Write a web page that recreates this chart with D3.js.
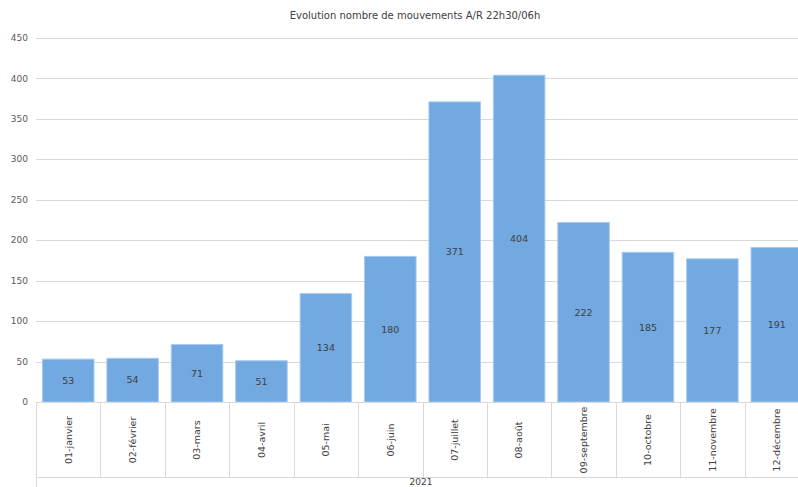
<!DOCTYPE html>
<html><head><meta charset="utf-8">
<script src="https://cdn.jsdelivr.net/npm/d3@7"></script>
<style>body{margin:0;background:#fff;}svg{display:block;font-family:"DejaVu Sans",sans-serif;}</style>
</head><body>
<svg id="c" width="798" height="487"></svg>
<script>
const title = "Evolution nombre de mouvements A/R 22h30/06h";
const categories = ["01-janvier","02-février","03-mars","04-avril","05-mai","06-juin","07-juillet","08-août","09-septembre","10-octobre","11-novembre","12-décembre"];
const values = [53,54,71,51,134,180,371,404,222,185,177,191];
const yTicks = [0,50,100,150,200,250,300,350,400,450];
const groupLabel = "2021";

(function(){
const svg = d3.select("#c");
const pL = 36, pR = 809, pT = 38, pB = 402;
const x = d3.scaleBand().domain(categories).range([pL, pR]).paddingInner(0.2).paddingOuter(0.1);
const y = d3.scaleLinear().domain([0, 450]).range([pB, pT]);

svg.append("text").attr("x", 415).attr("y", 19).attr("text-anchor","middle")
  .attr("font-size", 10).attr("fill","#404040").text(title);

svg.append("g").selectAll("line").data(yTicks).join("line")
  .attr("x1", pL).attr("x2", 798).attr("y1", d=>Math.round(y(d))+0.5).attr("y2", d=>Math.round(y(d))+0.5)
  .attr("stroke","#d9d9d9").attr("stroke-width",1);

svg.append("g").selectAll("text").data(yTicks).join("text")
  .attr("x", 28).attr("y", d=>y(d)).attr("dy","0.35em").attr("text-anchor","end")
  .attr("font-size", 9).attr("fill","#595959").text(d=>d);

svg.append("g").selectAll("rect").data(values).join("rect")
  .attr("x", (d,i)=>x(categories[i])).attr("width", x.bandwidth())
  .attr("y", d=>y(d)).attr("height", d=>y(0)-y(d))
  .attr("fill","#72a9e1").attr("stroke","#a6cbef").attr("stroke-width",1);

svg.append("g").selectAll("text").data(values).join("text")
  .attr("x", (d,i)=>x(categories[i]) + x.bandwidth()/2)
  .attr("y", d=>(y(d)+y(0))/2).attr("dy","0.35em").attr("text-anchor","middle")
  .attr("font-size", 9.5).attr("fill","#404040").text(d=>d);

const step = x.step();
const bounds = d3.range(categories.length + 1).map(i => pL + i*step);
const ax = svg.append("g");
ax.append("line").attr("x1", pL).attr("x2", 798).attr("y1", pB+0.5).attr("y2", pB+0.5).attr("stroke","#d9d9d9");
ax.selectAll("line.div").data(bounds).join("line").attr("class","div")
  .attr("x1", d=>Math.round(d)+0.5).attr("x2", d=>Math.round(d)+0.5)
  .attr("y1", pB).attr("y2", (d,i)=> i===0 ? 487 : 477)
  .attr("stroke","#d9d9d9");
ax.append("line").attr("x1", pL).attr("x2", 798).attr("y1", 477.5).attr("y2", 477.5).attr("stroke","#d9d9d9");

svg.append("g").selectAll("text").data(categories).join("text")
  .attr("transform", d=>`translate(${x(d)+x.bandwidth()/2},440) rotate(-90)`)
  .attr("dy","0.35em").attr("text-anchor","middle")
  .attr("font-size", 9.5).attr("fill","#404040").text(d=>d);

svg.append("text").attr("x", 421).attr("y", 485).attr("text-anchor","middle")
  .attr("font-size", 9).attr("fill","#404040").text(groupLabel);
})();
</script>
</body></html>
